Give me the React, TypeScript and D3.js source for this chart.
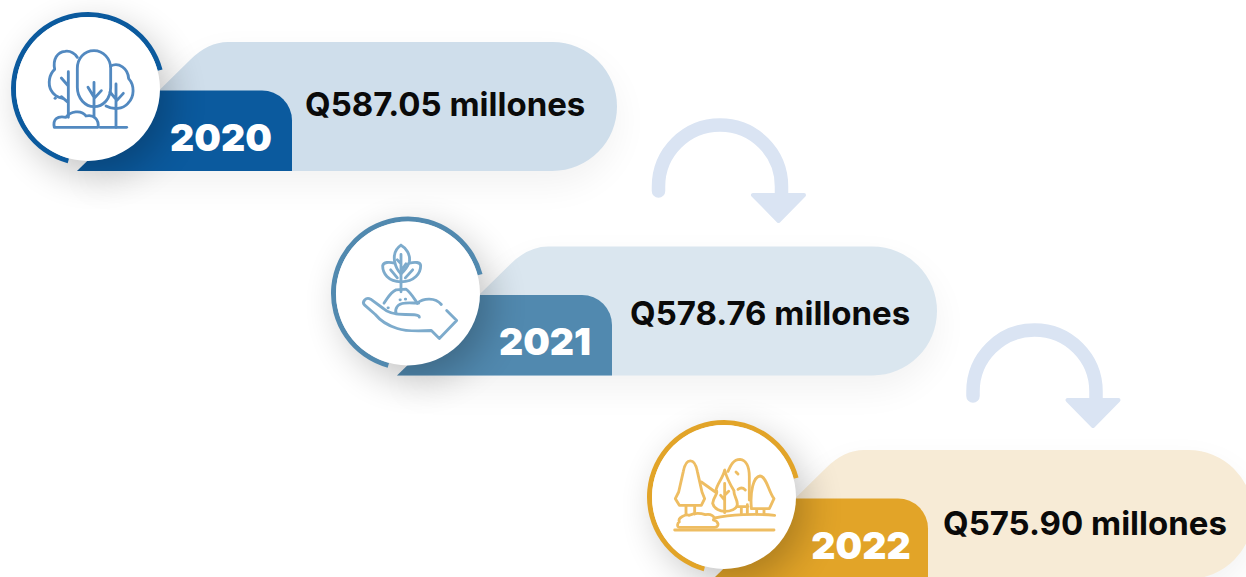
import React from "react";
import * as d3 from "d3";

const years = ["2020", "2021", "2022"];
const amounts = ["Q587.05 millones", "Q578.76 millones", "Q575.90 millones"];
const paleColors = ["#cfdeeb", "#dae6ef", "#f7ebd6"];
const tabColors = ["#0b5a9e", "#5189af", "#e2a428"];
const iconColors = ["#5289c0", "#7dabcc", "#eebd62"];

const W = 1246;
const H = 577;
const rad = (deg: number) => (deg * Math.PI) / 180;

// where each card sits, by position in the list
const cardX = d3.scaleLinear().domain([0, 1, 2]).range([0, 320, 636]);
const cardY = d3.scaleLinear().domain([0, 1, 2]).range([0, 204.5, 408]);
const amountX = d3.scaleLinear().domain([0, 1, 2]).range([305, 310, 307]);
const amountY = d3.scaleLinear().domain([0, 1, 2]).range([116, 120, 127]);
const yearX = d3.scaleLinear().domain([0, 1, 2]).range([221, 225, 225]);
const yearY = d3.scaleLinear().domain([0, 1, 2]).range([151, 150, 151]);

// pale pill with the slanted left side
function paleShape() {
  const p = d3.path();
  p.moveTo(77, 171);
  p.lineTo(190, 60);
  p.quadraticCurveTo(208, 42, 228, 42);
  p.lineTo(552.5, 42);
  p.arc(552.5, 106.5, 64.5, -Math.PI / 2, Math.PI / 2);
  p.closePath();
  return p.toString();
}

function tabShape() {
  const p = d3.path();
  p.moveTo(77, 171);
  p.lineTo(160, 90.5);
  p.lineTo(262, 90.5);
  p.arc(262, 120.5, 30, -Math.PI / 2, 0);
  p.lineTo(292, 171);
  p.closePath();
  return p.toString();
}

const ring = d3.arc()({
  innerRadius: 72,
  outerRadius: 77,
  startAngle: rad(195.3),
  endAngle: rad(435.4),
}) as string;

// shaft of the curved arrow
const arrowPath = (() => {
  const p = d3.path();
  p.moveTo(658.5, 191);
  p.lineTo(658.5, 187);
  p.arc(720, 186.5, 61.5, Math.PI, 0);
  p.lineTo(781.5, 200);
  return p.toString();
})();
const arrowHead = (() => {
  const p = d3.path();
  p.moveTo(753, 195);
  p.lineTo(804, 195);
  p.lineTo(778.5, 221);
  p.closePath();
  return p.toString();
})();
const arrowShift = [[0, 0], [314.5, 205]];

// icons are traced in 3x crop coordinates
const icons: string[][] = [
  [
    "M232 172 C222 158 208 152 195 154 C172 156 158 178 164 208 C148 222 142 252 154 272 C160 284 172 292 188 295",
    "M205 215 L205 352 M184 234 L205 258 M205 308 L184 290",
    "M282 152 C252 152 232 176 232 205 L232 262 C232 296 256 320 282 320 C310 320 332 296 332 262 L332 205 C332 176 310 152 282 152 Z",
    "M282 247 L282 350 M264 262 L282 292 M304 272 L282 296",
    "M332 198 C356 186 384 204 386 236 C404 256 404 290 384 310 C368 328 340 330 318 318",
    "M348 252 L348 382 M330 276 L348 298 M370 280 L348 304",
    "M300 382 L380 382",
    "M163 382 C158 360 170 346 198 352 C210 334 244 328 258 348 C282 342 298 360 294 382 Z",
    "M165 295 L166 295",
  ],
  [
    "M243 122 C228 132 220 150 224 172 C228 192 236 202 243 208 C252 200 262 190 268 172 C272 150 258 130 243 122",
    "M243 150 L243 262 M243 178 L232 166 M243 200 L258 178",
    "M224 176 C208 172 190 172 188 184 C188 206 204 232 243 232 M212 196 L232 220",
    "M268 176 C284 172 302 172 302 184 C302 206 284 232 243 232 M278 196 L256 220",
    "M192 296 C204 280 210 264 228 256 L258 254 C272 264 282 282 292 296",
    "M240 286 L241 286 M256 284 L257 284 M204 310 L205 310",
    "M292 296 C310 280 346 278 364 300 M380 318 L410 348 L358 402 L334 378 C300 380 260 382 232 372 C200 362 182 350 166 330 L134 302 C124 292 138 276 152 284 L190 312 C200 322 224 330 256 330 C282 330 298 330 298 338",
    "M228 328 C224 312 232 298 254 296 C268 294 282 296 296 296",
  ],
  [
    "M118 272 L128 252 L142 190 C150 148 176 148 184 190 L198 252 L206 272 L196 292 L130 292 Z",
    "M150 292 L150 318 M176 292 L176 318",
    "M196 222 L238 252",
    "M266 186 C262 208 244 226 240 246 C250 256 232 264 230 286 C234 304 254 310 266 310 C282 310 304 304 304 288 C304 272 292 262 294 248 C284 232 272 210 266 186 Z",
    "M266 226 L266 314 M254 262 L266 276 M278 250 L266 262",
    "M276 190 C284 172 292 154 312 154 C330 156 340 176 340 206 L340 276 M304 296 L336 296 M316 296 L316 316 M334 290 L334 316",
    "M300 192 L306 198 M306 244 C314 238 320 238 328 246",
    "M346 298 C342 252 352 206 372 204 C392 206 398 252 414 272 L400 302 L346 302 M362 302 L362 318 M384 302 L384 318",
    "M236 330 C280 320 360 316 416 322",
    "M130 342 C124 328 150 318 160 322 C176 314 190 314 208 320 C224 316 240 326 232 336 C248 340 252 356 236 358 L130 358 C122 358 124 344 130 342 Z",
    "M116 366 L414 366",
  ],
];

export default function App() {
  return (
    <svg
      width={W}
      height={H}
      viewBox={`0 0 ${W} ${H}`}
      style={{ position: "absolute", left: 0, top: 0, background: "#fff" }}
      fontFamily="Inter, Roboto, Arial, sans-serif"
    >
      <defs>
        <filter id="cardShadow" x="-20%" y="-30%" width="140%" height="170%">
          <feGaussianBlur stdDeviation="18" />
        </filter>
        <filter id="circleShadow" x="-60%" y="-60%" width="220%" height="220%">
          <feGaussianBlur stdDeviation="19" />
        </filter>
      </defs>

      {arrowShift.map((s, i) => (
        <g key={i} transform={`translate(${s[0]},${s[1]})`}>
          <path d={arrowPath} fill="none" stroke="#dae4f3" strokeWidth={13.5} strokeLinecap="round" />
          <path d={arrowHead} fill="#dae4f3" stroke="#dae4f3" strokeWidth={4} strokeLinejoin="round" />
        </g>
      ))}

      {years.map((year, i) => (
        <g key={year} transform={`translate(${cardX(i)},${cardY(i)})`}>
          <path d={paleShape()} transform="translate(0,14)" fill="#000" opacity={0.05} filter="url(#cardShadow)" />
          <path d={paleShape()} fill={paleColors[i]} />
          <path d={tabShape()} fill={tabColors[i]} />
          <circle cx={96} cy={100} r={74} fill="#000" opacity={0.24} filter="url(#circleShadow)" />
          <g transform="translate(88,89)">
            <path d={ring} fill={tabColors[i]} />
            <circle r={72} fill="#fff" />
          </g>
          <g
            transform={`scale(${1 / 3})`}
            fill="none"
            stroke={iconColors[i]}
            strokeWidth={8.5}
            strokeLinecap="round"
            strokeLinejoin="round"
          >
            {icons[i].map((d, k) => (
              <path key={k} d={d} />
            ))}
          </g>
          <text x={yearX(i)} y={yearY(i)} textAnchor="middle" fontSize={37.5} fontWeight={900} fill="#fff">
            {year}
          </text>
          <text x={amountX(i)} y={amountY(i)} fontSize={33} fontWeight={700} fill="#0a0a0a">
            {amounts[i]}
          </text>
        </g>
      ))}
    </svg>
  );
}
